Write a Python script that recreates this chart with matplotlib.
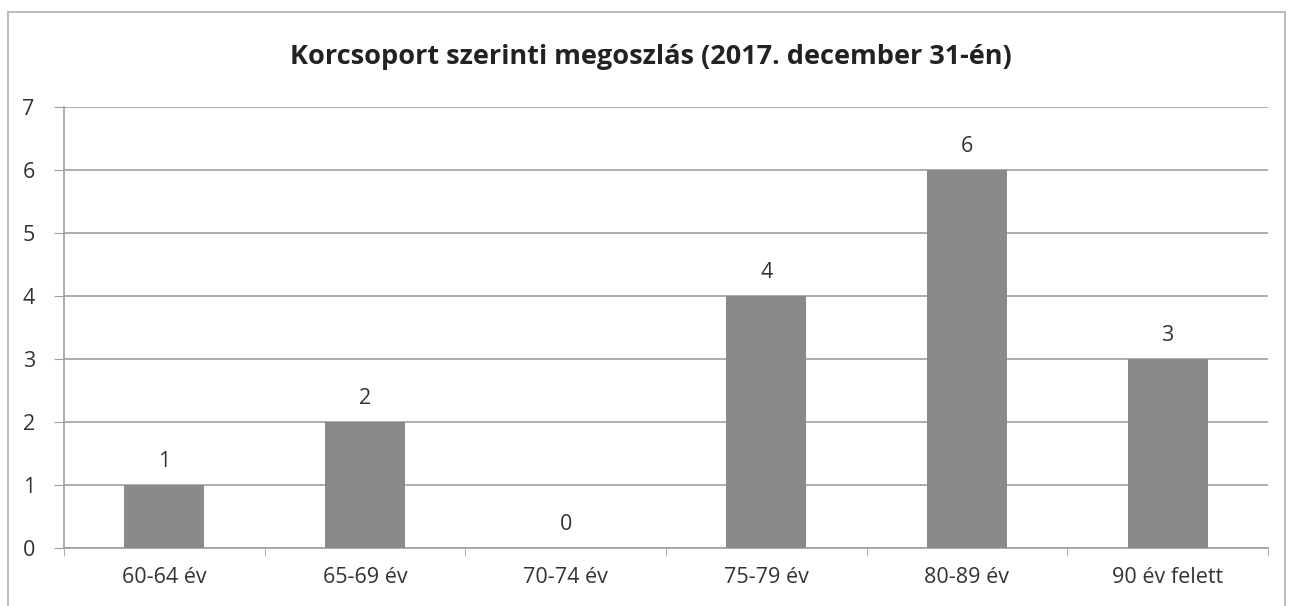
import numpy as np
import matplotlib.pyplot as plt
from matplotlib.patches import Rectangle

plt.rcParams['font.family'] = ['Open Sans', 'DejaVu Sans']

categories = ['60-64 év', '65-69 év', '70-74 év', '75-79 év', '80-89 év', '90 év felett']
values = [1, 2, 0, 4, 6, 3]
title = 'Korcsoport szerinti megoszlás (2017. december 31-én)'

fig = plt.figure(figsize=(12.89, 6.06), dpi=100)
ax = fig.add_axes([64 / 1289, 1 - 548 / 606, (1268 - 64) / 1289, (548 - 107) / 606])

x = np.arange(len(categories))
bars = ax.bar(x, values, width=0.4, color='#8a8a8a', zorder=3)
for xi, v in zip(x, values):
    ax.text(xi, v + 0.2, str(v), ha='center', va='bottom', fontsize=15.5, color='#333333')

ax.set_xlim(-0.5, len(categories) - 0.5)
ax.set_ylim(0, 7)
ax.set_yticks(range(0, 8))
ax.yaxis.grid(True, color='#a0a0a0', linewidth=1.2, zorder=0)
ax.set_xticks(x)
ax.set_xticklabels(categories)
ax.set_xticks(np.arange(-0.5, len(categories)), minor=True)
ax.tick_params(axis='x', which='major', length=0, pad=14, labelsize=15.5, labelcolor='#333333')
ax.tick_params(axis='x', which='minor', length=6, color='#a0a0a0')
ax.tick_params(axis='y', length=7, color='#a0a0a0', pad=14, labelsize=15.5, labelcolor='#333333')
for s in ['top', 'right']:
    ax.spines[s].set_visible(False)
for s in ['left', 'bottom']:
    ax.spines[s].set_color('#a0a0a0')
    ax.spines[s].set_linewidth(1.2)

fig.text(651 / 1289, 1 - 57 / 606, title, ha='center', va='center',
         fontsize=19.5, fontweight='bold', color='#222222')

fig.patches.append(Rectangle((8 / 1289, -0.05), (1285 - 8) / 1289, 1 - 12 / 606 + 0.05,
                             transform=fig.transFigure, fill=False,
                             edgecolor='#b0b0b0', linewidth=1.2))

fig.savefig('out.png', dpi=100)
